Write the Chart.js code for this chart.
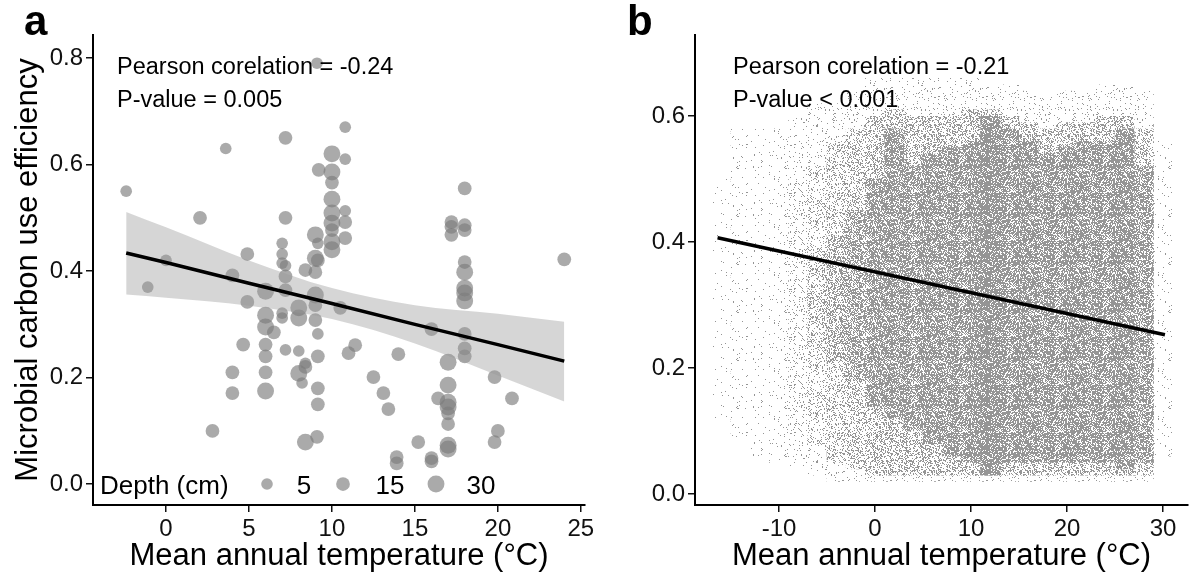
<!DOCTYPE html>
<html>
<head>
<meta charset="utf-8">
<script src="https://cdn.jsdelivr.net/npm/chart.js@4.4.1/dist/chart.umd.min.js"></script>
<style>
html, body { margin: 0; padding: 0; background: #fff; }
#wrap { position: relative; width: 1192px; height: 581px; }
.panel { position: absolute; top: 0; width: 596px; height: 581px; }
</style>
</head>
<body>
<div id="wrap">
  <div class="panel" style="left:0"><canvas id="chartA"></canvas></div>
  <div class="panel" style="left:596px"><canvas id="chartB"></canvas></div>
</div>
<script>
//==================== Panel a data: sites (temperature, CUE, depth) ====================
var tempA = [
  -2.4, -1.1, 0.0, 2.05, 3.6, 7.2, 9.1, 10.8, 10.0, 10.8,
  9.2, 10.0, 10.0, 10.0, 10.0, 10.0, 10.0, 10.0, 10.0, 18.0,
  7.2, 4.9, 7.0, 7.0, 7.0, 7.2, 7.2, 9.0, 9.15, 9.0,
  9.15, 8.4, 9.0, 4.0, 4.9, 6.0, 7.2, 9.0, 9.0, 8.0,
  7.0, 7.0, 8.0, 6.0, 6.0, 6.5, 9.0, 9.15, 4.65, 6.0,
  7.2, 8.0, 10.8, 10.8, 10.8, 17.2, 17.2, 17.2, 18.0, 18.0,
  18.0, 18.0, 18.0, 18.0, 18.0, 24.0, 10.5, 16.0, 18.0, 18.0,
  11.4, 14.0, 11.0, 17.0, 18.0, 19.8, 20.85, 12.5, 13.1, 13.4,
  17.0, 16.4, 17.0, 17.0, 17.0, 17.0, 15.2, 17.0, 17.0, 16.0,
  16.0, 13.9, 13.9, 20.0, 19.8, 9.15, 9.15, 9.15, 9.1, 6.0,
  4.0, 6.0, 8.0, 8.4, 8.4, 8.2, 4.0, 6.0, 2.8, 8.4
];
var cueA = [
  0.55, 0.37, 0.42, 0.50, 0.63, 0.65, 0.79, 0.67, 0.62, 0.61,
  0.59, 0.586, 0.566, 0.535, 0.509, 0.49, 0.477, 0.455, 0.44, 0.555,
  0.50, 0.432, 0.452, 0.432, 0.415, 0.41, 0.39, 0.468, 0.452, 0.424,
  0.42, 0.402, 0.398, 0.392, 0.342, 0.362, 0.364, 0.355, 0.336, 0.331,
  0.321, 0.312, 0.312, 0.317, 0.295, 0.285, 0.308, 0.282, 0.262, 0.262,
  0.252, 0.25, 0.513, 0.492, 0.462, 0.492, 0.483, 0.468, 0.486, 0.477,
  0.417, 0.398, 0.368, 0.359, 0.344, 0.422, 0.331, 0.291, 0.282, 0.255,
  0.261, 0.244, 0.246, 0.229, 0.24, 0.201, 0.161, 0.201, 0.171, 0.141,
  0.186, 0.161, 0.154, 0.145, 0.133, 0.113, 0.079, 0.073, 0.066, 0.049,
  0.043, 0.051, 0.039, 0.10, 0.079, 0.24, 0.18, 0.15, 0.089, 0.24,
  0.21, 0.21, 0.208, 0.22, 0.227, 0.19, 0.171, 0.175, 0.10, 0.079
];
var depthA = [
  5, 5, 5, 15, 5, 15, 5, 5, 30, 5,
  15, 30, 15, 30, 30, 30, 15, 30, 30, 15,
  15, 15, 5, 5, 5, 5, 15, 30, 5, 30,
  15, 15, 15, 15, 15, 30, 15, 30, 15, 30,
  5, 5, 30, 30, 30, 15, 15, 5, 15, 15,
  5, 5, 5, 15, 15, 15, 15, 15, 15, 15,
  15, 30, 30, 30, 30, 15, 15, 15, 15, 15,
  15, 15, 15, 30, 15, 15, 15, 15, 15, 15,
  30, 15, 30, 30, 15, 15, 15, 30, 30, 15,
  15, 15, 15, 15, 15, 15, 15, 15, 15, 15,
  15, 15, 30, 15, 5, 5, 15, 30, 15, 30
];

// linear fit with 95% confidence band (panel a)
var fitXA = [-2.4, 0, 5, 10, 15, 20, 24];
var fitYA = [0.434, 0.416, 0.377, 0.339, 0.300, 0.262, 0.231];
var bandHiA = [0.511, 0.482, 0.420, 0.368, 0.336, 0.320, 0.305];
var bandLoA = [0.356, 0.350, 0.335, 0.310, 0.264, 0.204, 0.155];

var xTicksA = [0, 5, 10, 15, 20, 25];
var yTicksA = [0, 0.2, 0.4, 0.6, 0.8];
var legendDepths = [5, 15, 30];
var statsA = ['Pearson corelation = -0.24', 'P-value = 0.005'];

//==================== Panel b data: gridded cloud, read as 2 °C bins ====================
var binB = [-16, -14, -12, -10, -8, -6, -4, -2, 0, 2, 4, 6, 8, 10, 12, 14, 16, 18, 20, 22, 24, 26, 28, 30];
// outer (sparse) extent of points and how crowded it looks
var sparseLoB = [0.12, 0.08, 0.06, 0.05, 0.04, 0.03, 0.02, 0.02, 0.02, 0.02, 0.02, 0.02, 0.02, 0.02, 0.02, 0.02, 0.02, 0.02, 0.02, 0.02, 0.02, 0.02, 0.02, 0.06];
var sparseHiB = [0.50, 0.58, 0.58, 0.58, 0.60, 0.62, 0.62, 0.64, 0.66, 0.66, 0.66, 0.66, 0.66, 0.66, 0.65, 0.65, 0.64, 0.63, 0.64, 0.64, 0.65, 0.65, 0.64, 0.56];
var sparseDenB = [0.02, 0.03, 0.03, 0.04, 0.05, 0.06, 0.06, 0.06, 0.06, 0.06, 0.06, 0.06, 0.06, 0.06, 0.06, 0.06, 0.06, 0.06, 0.06, 0.06, 0.06, 0.06, 0.05, 0.03];
// medium density extent
var midLoB = [null, null, null, null, 0.10, 0.08, 0.05, 0.04, 0.03, 0.03, 0.03, 0.03, 0.03, 0.03, 0.03, 0.03, 0.03, 0.03, 0.03, 0.03, 0.03, 0.03, 0.03, null];
var midHiB = [null, null, null, null, 0.50, 0.52, 0.56, 0.58, 0.60, 0.61, 0.60, 0.60, 0.60, 0.61, 0.61, 0.60, 0.59, 0.58, 0.59, 0.59, 0.60, 0.60, 0.58, null];
var midDenB = [null, null, null, null, 0.07, 0.13, 0.2, 0.27, 0.32, 0.35, 0.35, 0.35, 0.35, 0.35, 0.35, 0.35, 0.35, 0.35, 0.35, 0.35, 0.35, 0.35, 0.3, null];
// dense core extent
var coreLoB = [null, null, null, null, null, 0.24, 0.21, 0.18, 0.14, 0.12, 0.10, 0.08, 0.06, 0.05, 0.03, 0.05, 0.05, 0.05, 0.05, 0.05, 0.05, 0.04, 0.05, null];
var coreHiB = [null, null, null, null, null, 0.38, 0.41, 0.45, 0.50, 0.58, 0.52, 0.54, 0.55, 0.56, 0.60, 0.58, 0.56, 0.54, 0.55, 0.56, 0.56, 0.58, 0.52, null];
var coreDenB = [null, null, null, null, null, 0.15, 0.25, 0.35, 0.45, 0.5, 0.45, 0.48, 0.5, 0.5, 0.65, 0.52, 0.5, 0.5, 0.5, 0.5, 0.5, 0.52, 0.45, null];

var fitXB = [-16.4, 30.2];
var fitYB = [0.407, 0.253];

var xTicksB = [-10, 0, 10, 20, 30];
var yTicksB = [0, 0.2, 0.4, 0.6];
var statsB = ['Pearson corelation = -0.21', 'P-value < 0.001'];

var xTitle = 'Mean annual temperature (°C)';
var yTitle = 'Microbial carbon use efficiency';

//==================== Common settings ====================
var FONT = "'Liberation Sans', Arial, Helvetica, sans-serif";
Chart.defaults.font.family = FONT;
Chart.defaults.color = '#111';
Chart.defaults.animation = false;
Chart.defaults.plugins.legend.display = false;
Chart.defaults.plugins.tooltip.enabled = false;

var pointFill = 'rgba(125,125,125,0.65)';

function depthRadius(d) {
  return 5.3 + d * 0.105;
}

function xy(xs, ys) {
  var out = [];
  for (var i = 0; i < xs.length; i++) {
    if (ys[i] !== null) out.push({x: xs[i], y: ys[i]});
  }
  return out;
}

// speckled texture so the binned cloud reads like a dense scatter
var patternCache = {};
function speckle(density, seed) {
  var key = density + '_' + seed;
  if (patternCache[key]) return patternCache[key];
  var c = document.createElement('canvas');
  c.width = 48; c.height = 48;
  var g = c.getContext('2d');
  g.fillStyle = '#959595';
  for (var i = 0; i < 48; i++) {
    for (var j = 0; j < 48; j++) {
      var h = Math.sin(i * 12.9898 + j * 78.233 + seed) * 43758.5453;
      h = h - Math.floor(h);
      if (h < density) g.fillRect(i, j, 1, 1);
    }
  }
  patternCache[key] = g.createPattern(c, 'repeat');
  return patternCache[key];
}

// one floating bar per bin, textured by its density
function layer(xs, lo, hi, den, seed, order) {
  var data = [], fills = [];
  for (var i = 0; i < xs.length; i++) {
    if (lo[i] === null || hi[i] === null) continue;
    data.push({x: xs[i], y: [lo[i], hi[i]]});
    fills.push(speckle(den[i], seed));
  }
  return {data: data, backgroundColor: fills, borderWidth: 0, order: order};
}

function axis(min, max, ticks, fmt, size, isX, title, titlePad) {
  return {
    type: 'linear',
    min: min,
    max: max,
    offset: false,
    border: {display: true, color: '#000', width: 2},
    grid: {drawOnChartArea: false, drawTicks: true, tickLength: 7, color: '#111', lineWidth: 1.5, offset: false},
    ticks: {font: {size: 24}, color: '#111', padding: 3, autoSkip: false, maxRotation: 0, callback: fmt},
    title: {display: !!title, text: title || '', font: {size: 31}, color: '#000', padding: titlePad || 0},
    afterBuildTicks: function(s) {
      s.ticks = ticks.map(function(v) { return {value: v}; });
    },
    afterFit: function(s) {
      if (isX) s.height = size; else s.width = size;
      s.paddingLeft = 0; s.paddingRight = 0; s.paddingTop = 0; s.paddingBottom = 0;
    }
  };
}

function notes(letter, letterX, lines, withLegend) {
  return {
    id: 'notes',
    afterDraw: function(chart) {
      var ctx = chart.ctx;
      ctx.save();
      ctx.fillStyle = '#000';
      ctx.textBaseline = 'alphabetic';
      ctx.textAlign = 'left';
      ctx.font = 'bold 42px ' + FONT;
      ctx.fillText(letter, letterX, 35);
      ctx.font = '23.5px ' + FONT;
      var tx = withLegend ? 117 : 137;
      ctx.fillText(lines[0], tx, 74);
      ctx.fillText(lines[1], tx, 107);
      if (withLegend) {
        ctx.font = '26px ' + FONT;
        ctx.fillText('Depth (cm)', 100, 494);
        var dotX = [267, 343, 436];
        var labX = [304, 390, 481];
        ctx.textAlign = 'center';
        for (var i = 0; i < legendDepths.length; i++) {
          ctx.fillStyle = pointFill;
          ctx.beginPath();
          ctx.arc(dotX[i], 484, depthRadius(legendDepths[i]), 0, Math.PI * 2);
          ctx.fill();
          ctx.fillStyle = '#000';
          ctx.fillText(String(legendDepths[i]), labX[i], 494);
        }
      }
      ctx.restore();
    }
  };
}

//==================== Panel a ====================
var bubbles = tempA.map(function(t, i) {
  return {x: t, y: cueA[i], r: depthRadius(depthA[i])};
});

new Chart(document.getElementById('chartA').getContext('2d'), {
  type: 'bubble',
  data: {
    datasets: [
      {
        type: 'line',
        data: xy(fitXA, fitYA),
        borderColor: '#000',
        borderWidth: 3.5,
        pointRadius: 0,
        fill: false,
        order: 0
      },
      {
        type: 'line',
        data: xy(fitXA, bandHiA),
        borderWidth: 0,
        pointRadius: 0,
        cubicInterpolationMode: 'monotone',
        backgroundColor: 'rgba(153,153,153,0.4)',
        fill: '+1',
        order: 1
      },
      {
        type: 'line',
        data: xy(fitXA, bandLoA),
        borderWidth: 0,
        pointRadius: 0,
        cubicInterpolationMode: 'monotone',
        fill: false,
        order: 2
      },
      {
        data: bubbles,
        backgroundColor: pointFill,
        borderWidth: 0,
        order: 3
      }
    ]
  },
  options: {
    responsive: true,
    maintainAspectRatio: false,
    layout: {padding: {left: 0, right: 11, top: 35, bottom: 0}},
    scales: {
      x: axis(-4.4, 25.25, xTicksA, function(v) { return String(v); }, 76, true, xTitle, {top: 0, bottom: 6}),
      y: axis(-0.039, 0.843, yTicksA, function(v) { return v.toFixed(1); }, 93, false, yTitle, {top: 10, bottom: 0})
    }
  },
  plugins: [notes('a', 24, statsA, true)]
});

//==================== Panel b ====================
new Chart(document.getElementById('chartB').getContext('2d'), {
  type: 'bar',
  data: {
    datasets: [
      {
        type: 'line',
        data: xy(fitXB, fitYB),
        borderColor: '#000',
        borderWidth: 3.5,
        pointRadius: 0,
        fill: false,
        order: 0
      },
      layer(binB, coreLoB, coreHiB, coreDenB, 3.1, 1),
      layer(binB, midLoB, midHiB, midDenB, 7.7, 2),
      layer(binB, sparseLoB, sparseHiB, sparseDenB, 1.3, 3)
    ]
  },
  options: {
    responsive: true,
    maintainAspectRatio: false,
    grouped: false,
    barPercentage: 1,
    categoryPercentage: 1,
    layout: {padding: {left: 0, right: 4, top: 35, bottom: 0}},
    scales: {
      x: axis(-18.75, 32.6, xTicksB, function(v) { return String(v); }, 76, true, xTitle, {top: 0, bottom: 6}),
      y: axis(-0.0175, 0.729, yTicksB, function(v) { return v.toFixed(1); }, 99, false, '', 0)
    }
  },
  plugins: [notes('b', 31, statsB, false)]
});
</script>
</body>
</html>
